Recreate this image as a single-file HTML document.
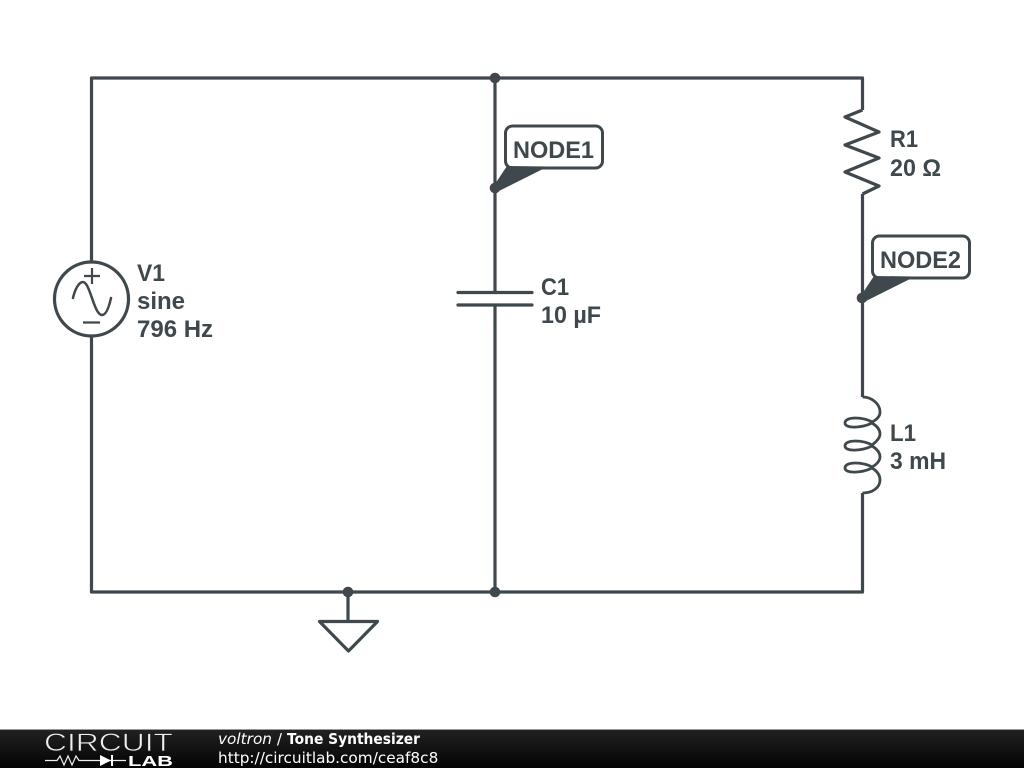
<!DOCTYPE html>
<html><head><meta charset="utf-8"><style>
html,body{margin:0;padding:0;background:#fff;width:1024px;height:768px;overflow:hidden}
svg{display:block}
.l{font-family:"Liberation Sans",sans-serif;font-weight:bold;font-size:24px;fill:#3f484d}
.f{font-family:"DejaVu Sans",sans-serif;font-size:15.3px;fill:#fff}
</style></head><body>
<svg width="1024" height="768" viewBox="0 0 1024 768" xmlns="http://www.w3.org/2000/svg">
<defs><linearGradient id="b" x1="0" y1="0" x2="0" y2="1"><stop offset="0" stop-color="#222"/><stop offset="1" stop-color="#030303"/></linearGradient></defs>
<g fill="none" stroke="#3f484d" stroke-width="3.200" stroke-linejoin="round">
<path d="M91.500 263V78H862.500V110M862.500 194V397M862.500 493V592H91.500V335"/>
<path d="M495 78V292M495 305V592"/>
<path d="M458 292.500H532M458 305H532" stroke-linecap="round"/>
<path d="M348 592V621M319.500 621.500H377.500L348.500 651Z"/>
<path d="M862.500 110L845 117L879 132L845 145L879 158L845 172L879 186L862.500 194"/>
<circle cx="91.500" cy="299" r="37"/>
<path d="M84 276H100M92 268V284M83 322.500H100" stroke-width="2.200"/>
<path d="M73 298C75 289 79 282 83 282C90 282 94 315 102 315C106 315 109 307 111 298" stroke-width="2.500" stroke-linecap="round"/>
<path d="M862.500 397C872 397 880 404 880 412C880 417 876 420 872 422C864 417 845 416 845 423C845 429 862 428 872 423C877 426 880 430 880 434C880 438 876 442 872 445C864 440 845 439 845 446C845 452 862 451 872 446C877 449 880 453 880 457C880 461 876 465 872 467C864 462 845 461 845 468C845 474 862 473 872 468C877 471 880 475 880 480C880 488 872 493 862.500 493" stroke-width="2.800"/>
</g>
<g fill="#3f484d">
<circle cx="495" cy="78" r="5.300"/><circle cx="495" cy="592" r="5.300"/><circle cx="348" cy="592" r="5.300"/>
<circle cx="495" cy="188" r="5.300"/><circle cx="862" cy="298" r="5.300"/>
</g>
<g fill="#fff" stroke="#3f484d" stroke-width="3">
<rect x="505.500" y="126" width="97" height="42" rx="7"/>
<rect x="872.500" y="236" width="97" height="42" rx="7"/>
</g>
<path d="M495 184L507 166L548 166.500L497 192Z" fill="#3f484d"/>
<path d="M862 294L874 276L915 276.500L864 302Z" fill="#3f484d"/>
<text class="l" x="137" y="281" textLength="28" lengthAdjust="spacingAndGlyphs">V1</text>
<text class="l" x="137" y="309">sine</text>
<text class="l" x="137" y="337">796 Hz</text>
<text class="l" x="541" y="295" textLength="28" lengthAdjust="spacingAndGlyphs">C1</text>
<text class="l" x="541" y="323" textLength="60" lengthAdjust="spacingAndGlyphs">10 µF</text>
<text class="l" x="890" y="147" textLength="28" lengthAdjust="spacingAndGlyphs">R1</text>
<text class="l" x="890" y="176" textLength="51" lengthAdjust="spacingAndGlyphs">20 Ω</text>
<text class="l" x="890" y="441" textLength="26" lengthAdjust="spacingAndGlyphs">L1</text>
<text class="l" x="890" y="469" textLength="56" lengthAdjust="spacingAndGlyphs">3 mH</text>
<text class="l" x="513" y="158" textLength="81" lengthAdjust="spacingAndGlyphs">NODE1</text>
<text class="l" x="880" y="268" textLength="81" lengthAdjust="spacingAndGlyphs">NODE2</text>
<rect x="0" y="729" width="1024" height="39" fill="url(#b)"/>
<rect x="0" y="729" width="1024" height="1" fill="#999"/>
<text x="44" y="751" font-family="Liberation Sans,sans-serif" font-size="25" fill="#f0f0f0" stroke="#1c1c1c" stroke-width="0.7" textLength="129" lengthAdjust="spacingAndGlyphs">CIRCUIT</text>
<path d="M45 760.500H57L60 756L64 765L68 756L72 765L76 756L79 760.500H126" fill="none" stroke="#eee" stroke-width="1.200"/>
<path d="M100 755L111 760.500L100 766Z" fill="#fff"/><rect x="111" y="755" width="2" height="11" fill="#fff"/>
<text x="128" y="766" font-family="Liberation Sans,sans-serif" font-weight="bold" font-size="15" fill="#fff" textLength="45" lengthAdjust="spacingAndGlyphs">LAB</text>
<text class="f" x="218" y="744"><tspan font-style="italic">voltron</tspan> /</text>
<text class="f" x="287" y="744" font-weight="bold" textLength="133" lengthAdjust="spacingAndGlyphs">Tone Synthesizer</text>
<text class="f" x="218" y="763">http://circuitlab.com/ceaf8c8</text>
</svg>
</body></html>
